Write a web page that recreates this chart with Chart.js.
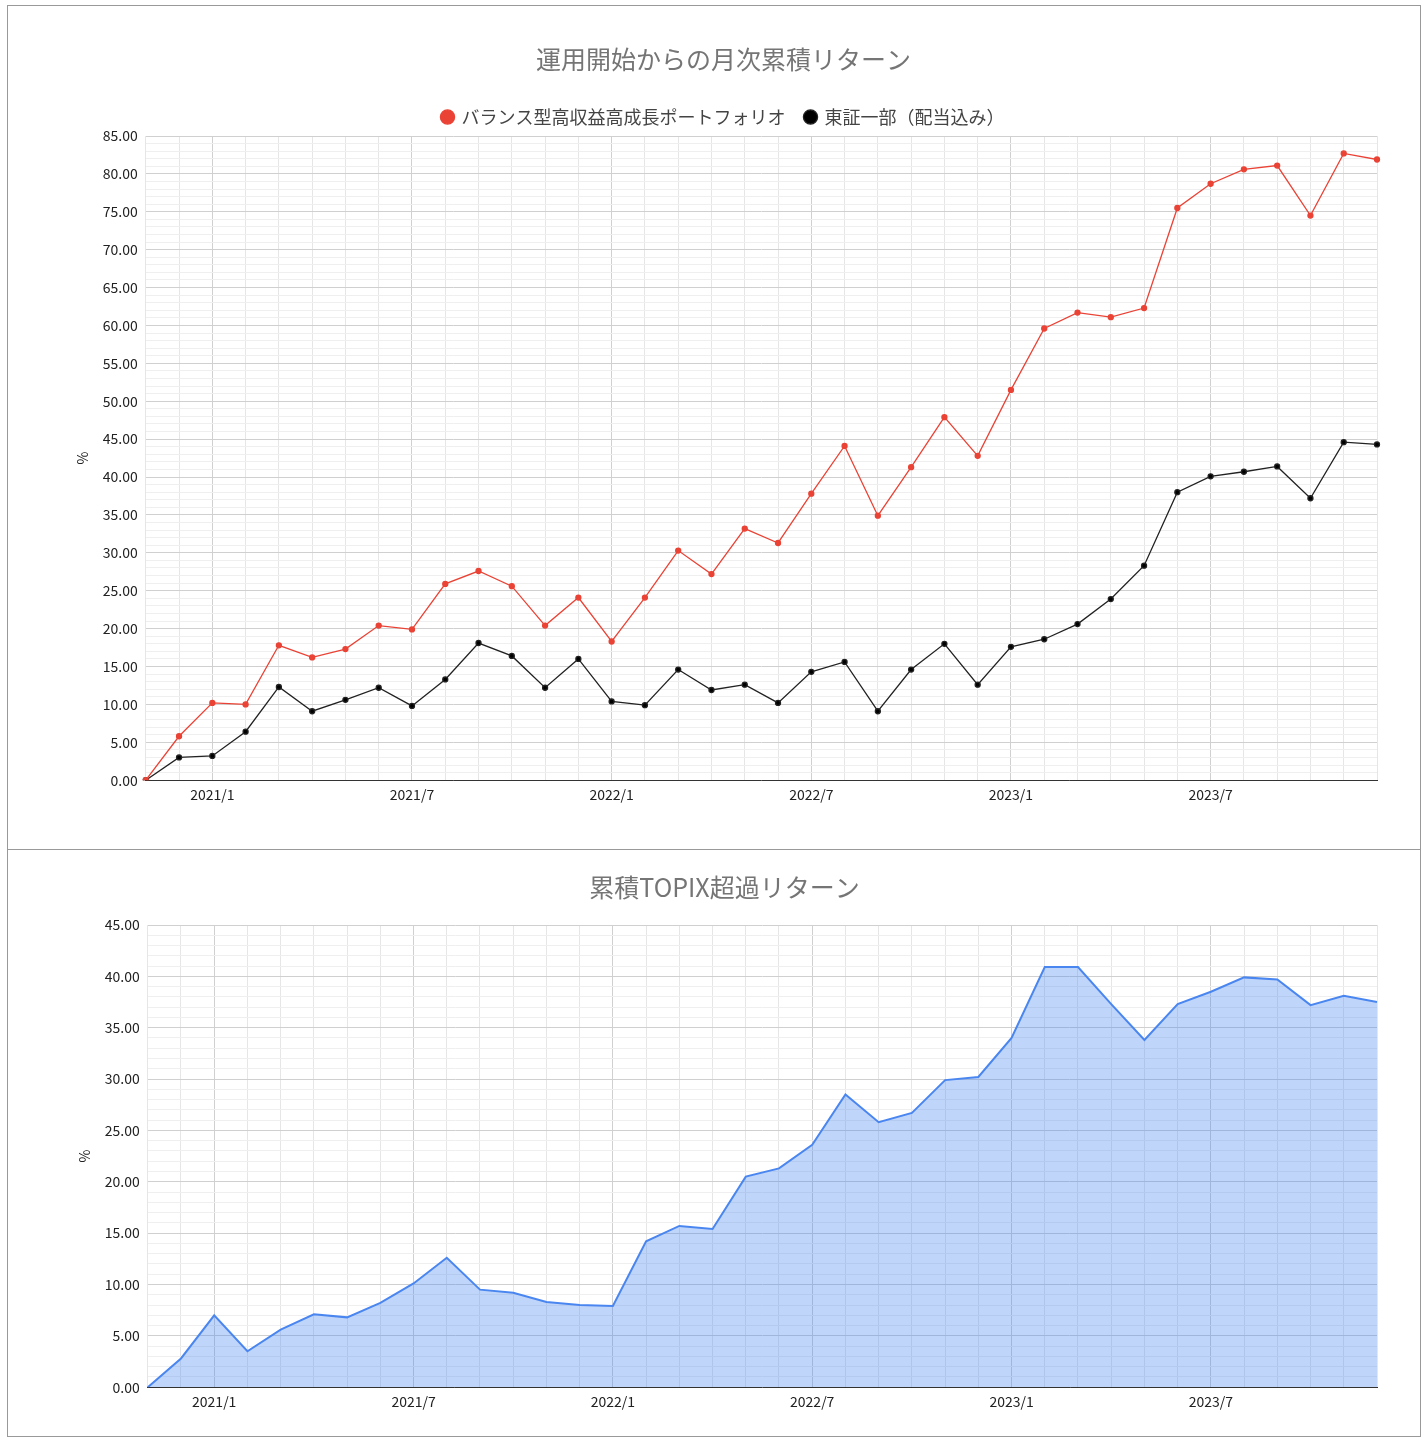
<!DOCTYPE html>
<html><head><meta charset="utf-8">
<script src="https://cdn.jsdelivr.net/npm/chart.js@4/dist/chart.umd.min.js"></script>
<style>
body{margin:0;background:#fff;font-family:"Noto Sans CJK JP",Roboto,sans-serif}
.box{position:absolute;left:7px;width:1412px;border:1px solid #999;background:#fff}
#b1{top:5px;height:843px}
#b2{top:849px;height:586px}
</style></head><body>
<div class="box" id="b1"><canvas id="c1"></canvas></div>
<div class="box" id="b2"><canvas id="c2"></canvas></div>
<script>
const months=[];
for(let y=2020,m=11;months.length<38;){months.push(y+'/'+m);m++;if(m>12){m=1;y++;}}
const portfolio=[0,5.8,10.2,10.0,17.8,16.2,17.3,20.4,19.9,25.9,27.6,25.6,20.4,24.1,18.3,24.1,30.3,27.2,33.2,31.3,37.8,44.1,34.9,41.3,47.9,42.8,51.5,59.6,61.7,61.1,62.3,75.5,78.7,80.6,81.1,74.5,82.7,81.9];
const topix=[0,3.0,3.2,6.4,12.3,9.1,10.6,12.2,9.8,13.3,18.1,16.4,12.2,16.0,10.4,9.9,14.6,11.9,12.6,10.2,14.3,15.6,9.1,14.6,18.0,12.6,17.6,18.6,20.6,23.9,28.3,38.0,40.1,40.7,41.4,37.2,44.6,44.3];
const excess=[0,2.8,7.0,3.5,5.6,7.1,6.8,8.2,10.1,12.6,9.5,9.2,8.3,8.0,7.9,14.2,15.7,15.4,20.5,21.3,23.6,28.5,25.8,26.7,29.9,30.2,34.0,40.9,40.9,37.3,33.8,37.3,38.5,39.9,39.7,37.2,38.1,37.5];
const shown=['2021/1','2021/7','2022/1','2022/7','2023/1','2023/7'];
function xAxis(){return {grid:{color:(c)=>shown.includes(months[c.index])?'#d0d0d0':'#e6e6e6',drawTicks:false},border:{color:'#333'},
 ticks:{autoSkip:false,maxRotation:0,color:'#222',font:{size:14},padding:6,callback:(v,i)=>shown.includes(months[i])?months[i]:''}};}
function yAxis(max){return {min:0,max:max,border:{display:false},
 title:{display:true,text:'%',color:'#222',font:{size:14}},
 grid:{color:(c)=>c.tick.value%5===0?'#d0d0d0':'#efefef',drawTicks:false},
 ticks:{stepSize:1,autoSkip:false,color:'#222',font:{size:14},padding:8,callback:(v)=>v%5===0?v.toFixed(2):''}};}
Chart.defaults.font.family='"Noto Sans CJK JP",Roboto,sans-serif';
new Chart(document.getElementById('c1'),{type:'line',
 data:{labels:months,datasets:[
  {label:'バランス型高収益高成長ポートフォリオ',data:portfolio,borderColor:'#ea4335',backgroundColor:'#ea4335',borderWidth:1.3,pointRadius:2.5,pointBackgroundColor:'#ea4335',tension:0},
  {label:'東証一部（配当込み）',data:topix,borderColor:'#222',backgroundColor:'#000',borderWidth:1.3,pointRadius:2.5,pointBackgroundColor:'#000',tension:0}]},
 options:{responsive:true,maintainAspectRatio:false,animation:false,
  layout:{padding:{left:62,right:43,top:38,bottom:40}},
  plugins:{title:{display:true,text:'運用開始からの月次累積リターン',color:'#757575',font:{size:25,weight:'normal'},padding:{bottom:14}},
   legend:{labels:{usePointStyle:true,pointStyle:'circle',boxWidth:10,boxHeight:10,color:'#444',font:{size:18},padding:20}}},
  scales:{x:xAxis(),y:yAxis(85)}}});
new Chart(document.getElementById('c2'),{type:'line',
 data:{labels:months,datasets:[
  {label:'累積TOPIX超過リターン',data:excess,borderColor:'#4a86f0',backgroundColor:'rgba(74,134,240,0.35)',fill:'origin',borderWidth:2,pointRadius:0,tension:0}]},
 options:{responsive:true,maintainAspectRatio:false,animation:false,
  layout:{padding:{left:64,right:43,top:22,bottom:20}},
  plugins:{title:{display:true,text:'累積TOPIX超過リターン',color:'#757575',font:{size:25,weight:'normal'},padding:{bottom:23}},legend:{display:false}},
  scales:{x:xAxis(),y:yAxis(45)}}});
</script></body></html>
